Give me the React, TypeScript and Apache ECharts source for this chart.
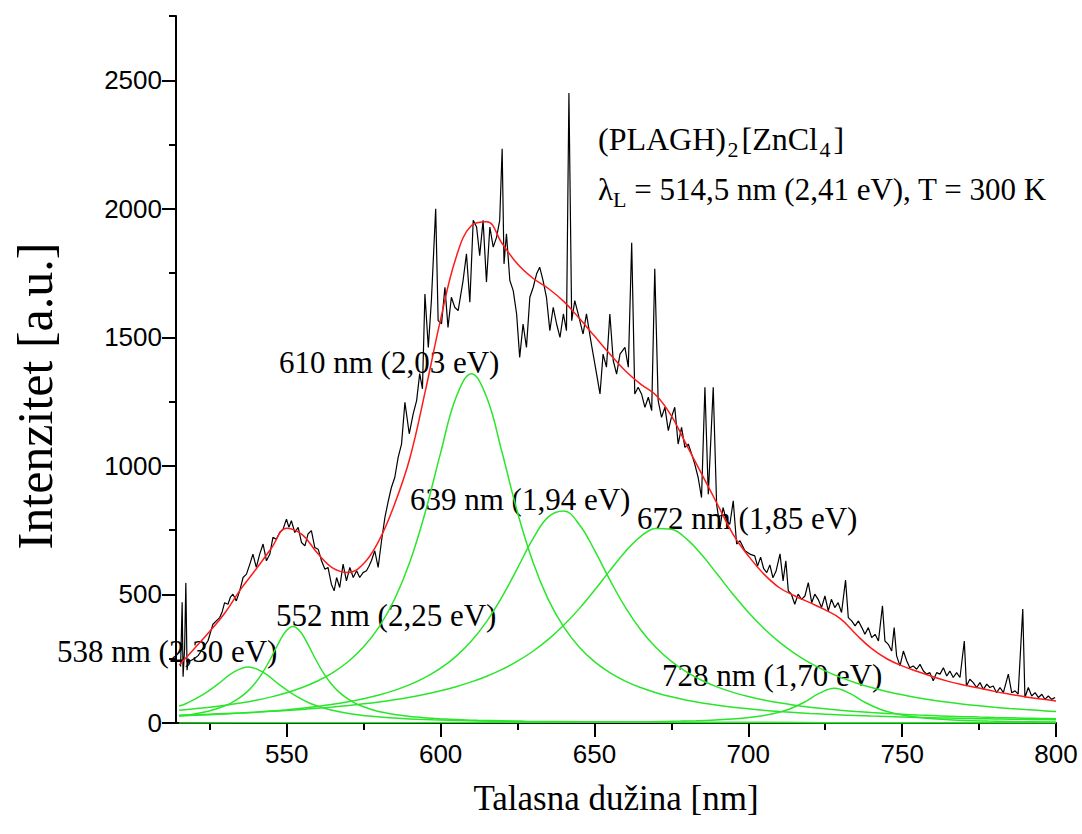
import React, { useEffect, useRef } from "react";
import * as echarts from "echarts";

// Axis extents and tick positions
const xMin = 514;
const xMax = 800;
const yMin = 0;
const yMax = 2750;
const xMajorTicks = [550, 600, 650, 700, 750, 800];
const xMinorTicks = [525, 575, 625, 675, 725, 775];
const yMajorTicks = [0, 500, 1000, 1500, 2000, 2500];
const yMinorTicks = [250, 750, 1250, 1750, 2250, 2750];

// Measured photoluminescence spectrum [nm, a.u.]
const spectrum: [number, number][] = [
  [515.5, 220], [516.0, 470], [516.3, 180], [516.8, 290], [517.2, 545], [517.6, 205], [518.0, 250], [518.5, 241],
  [519.3, 246], [520.1, 252], [521.2, 262], [522.3, 282], [523.3, 300], [524.4, 320], [525.2, 352], [526, 384],
  [527.1, 397], [528.2, 410], [529, 432], [529.8, 468], [530.9, 462], [531.7, 490], [532.5, 501], [533.6, 475],
  [534.7, 514], [535.8, 566], [536.9, 579], [538, 618], [539, 657], [540.1, 605], [541.2, 657], [542.3, 696],
  [543.4, 631], [544.5, 657], [545.5, 722], [546.6, 715], [547.7, 741], [548.8, 754], [549.9, 793], [550.7, 761],
  [551.5, 787], [552.6, 741], [553.7, 761], [554.8, 702], [555.9, 689], [556.9, 735], [558, 748], [559.1, 683],
  [560.2, 676], [561.3, 631], [562.4, 598], [563.4, 605], [564.5, 540], [565.4, 514], [566.2, 566], [567.2, 527],
  [568.3, 618], [569.4, 553], [570.5, 605], [571.6, 566], [572.7, 592], [573.7, 566], [574.8, 585], [575.9, 592],
  [576.7, 610], [577.5, 631], [578.6, 670], [579.7, 605], [580.8, 709], [581.9, 800], [583, 864], [584, 916],
  [585.1, 955], [586.2, 1033], [587.3, 1085], [588.4, 1247], [589.8, 1125], [591.1, 1203], [592.2, 1254], [593.2, 1359],
  [594.1, 1300], [594.9, 1669], [596, 1461], [597, 1643], [598.4, 2000], [599.2, 1565], [600.3, 1553], [601.4, 1695],
  [602.4, 1539], [603.5, 1656], [604.6, 1617], [605.7, 1604], [607.3, 1721], [608.4, 1825], [609.5, 1637], [610.6, 1955],
  [611.7, 1929], [612.7, 1818], [613.8, 1955], [614.9, 1715], [616, 1929], [617.1, 1851], [618.2, 1890], [619.2, 1955],
  [620, 2234], [620.6, 1786], [621.4, 1903], [622.5, 1721], [623.6, 1682], [624.7, 1591], [625.7, 1422], [626.8, 1552],
  [627.9, 1461], [629, 1656], [630.1, 1695], [631.2, 1747], [632.2, 1773], [633.3, 1721], [634.4, 1656], [635.5, 1526],
  [636.6, 1617], [637.7, 1552], [638.8, 1500], [639.9, 1591], [640.9, 1526], [641.7, 2450], [642.6, 1565], [643.6, 1643],
  [644.7, 1591], [646.3, 1513], [647.4, 1591], [649, 1474], [650.7, 1357], [651.8, 1280], [652.8, 1435], [653.9, 1384],
  [655, 1591], [656.1, 1410], [657.2, 1357], [658.3, 1435], [659.9, 1461], [661, 1384], [662.1, 1868], [663.1, 1280],
  [664.2, 1306], [665.3, 1280], [666.4, 1228], [667.5, 1267], [668.6, 1215], [669.6, 1767], [670.7, 1254], [671.8, 1189],
  [672.9, 1228], [674, 1137], [675, 1189], [676.1, 1228], [677.2, 1085], [678.3, 1150], [679.4, 1072], [680.5, 1085],
  [681.6, 1046], [682.6, 1007], [683.7, 955], [684.8, 877], [685.9, 1306], [687, 890], [688.6, 1306], [689.7, 851],
  [690.8, 760], [691.8, 838], [692.9, 787], [694, 773], [695.1, 864], [696.2, 696], [697.3, 709], [698.9, 670],
  [700.5, 657], [702.1, 650], [703, 610], [704, 645], [705, 600], [706, 585], [707, 615], [708, 565],
  [709, 590], [710.3, 658], [711.3, 553], [712.2, 631], [713, 514], [714, 501], [715.1, 462], [716.2, 501],
  [717.3, 481], [718.4, 494], [719.5, 546], [720.6, 468], [721.6, 501], [722.7, 481], [723.8, 449], [724.9, 494],
  [726, 436], [727, 481], [728.1, 449], [729.2, 468], [730.3, 430], [731.6, 556], [732.5, 410], [733.6, 397],
  [734.7, 378], [735.8, 397], [736.9, 371], [737.9, 345], [739, 371], [740.1, 332], [741.2, 345], [742.3, 319],
  [743.6, 456], [744.4, 319], [745.5, 306], [746.6, 280], [747.4, 371], [748.2, 261], [749.3, 222], [750.4, 280],
  [751.5, 241], [752.5, 215], [753.6, 222], [754.7, 209], [755.8, 228], [756.9, 202], [758, 190], [759, 196],
  [760.1, 164], [761.2, 196], [762.3, 190], [763.4, 215], [764.5, 183], [765.5, 202], [766.6, 177], [767.7, 196],
  [768.8, 177], [770.2, 319], [770.9, 144], [772, 170], [773.1, 157], [774.2, 138], [775.3, 157], [776.4, 131],
  [777.5, 151], [778.5, 138], [779.6, 144], [780.7, 118], [781.8, 138], [782.9, 118], [784.5, 190], [785.6, 118],
  [786.7, 125], [787.7, 112], [789.2, 443], [789.9, 99], [791, 138], [792.1, 105], [793.2, 118], [794.3, 99],
  [795.4, 112], [796.4, 92], [797.5, 105], [798.6, 92], [799.7, 99],
];

// Common 5 nm wavelength grid for the fit and the broad components
const gridNm = [
  515, 520, 525, 530, 535, 540, 545, 550, 555, 560, 565, 570, 575, 580, 585, 590, 595, 600, 605, 610,
  615, 620, 625, 630, 635, 640, 645, 650, 655, 660, 665, 670, 675, 680, 685, 690, 695, 700, 705, 710,
  715, 720, 725, 730, 735, 740, 745, 750, 755, 760, 765, 770, 775, 780, 785, 790, 795, 800,
];

// Cumulative fit
const fitInt = [
  225, 290, 357, 430, 520, 598, 680, 758, 733, 660, 602, 585, 620, 710, 850, 1030, 1290, 1570, 1810, 1935,
  1950, 1865, 1785, 1730, 1690, 1640, 1575, 1505, 1435, 1370, 1318, 1275, 1195, 1080, 965, 850, 735, 650, 580, 527,
  495, 468, 440, 405, 345, 290, 250, 222, 200, 180, 162, 148, 136, 123, 112, 102, 93, 86,
];

// Fitted components
const peak610Int = [
  49.6, 55.0, 61.4, 68.9, 77.8, 88.6, 101.7, 117.8, 137.9, 163.4, 196.2, 239.2, 296.4, 373.9, 480.3, 625.9, 819.1, 1050.8, 1266, 1358,
  1266, 1051, 819, 626, 480, 374, 296, 239, 196, 163, 138, 118, 102, 88.6, 77.8, 68.9, 61.4, 55.0, 49.6, 44.9,
  40.9, 37.3, 34.2, 31.5, 29.1, 26.9, 25.0, 23.3, 21.7, 20.3, 19.1, 17.9, 16.8, 15.9, 15.0, 14.2, 13.4, 12.7,
];
const peak639Int = [
  27.5, 29.7, 32.3, 35.2, 38.5, 42.3, 46.7, 51.7, 57.6, 64.5, 72.8, 82.6, 94.5, 109, 126.8, 149.1, 177.3, 213.2, 259.3, 318.9,
  395.4, 491.1, 602.7, 716.4, 801.8, 824.4, 773.4, 672.2, 556.6, 450.5, 362.6, 293.3, 239.4, 197.7, 165.2, 139.6, 119.2, 102.8, 89.5, 78.4,
  69.3, 61.6, 55.1, 49.6, 44.8, 40.7, 37.1, 34.0, 31.2, 28.8, 26.6, 24.7, 23.0, 21.4, 20.0, 18.7, 17.6, 16.5,
];
const peak672Int = [
  30.3, 32.3, 34.4, 36.7, 39.3, 42.2, 45.4, 48.9, 52.9, 57.4, 62.4, 68.1, 74.6, 82.0, 90.6, 100.4, 111.9, 125.4, 141.2, 159.9,
  182.1, 208.7, 240.7, 279.1, 325.2, 380, 443.9, 516.1, 592.7, 666.3, 725.3, 757, 753.4, 715.3, 652.4, 577.3, 501.1, 430.4, 368.3, 315.3,
  270.9, 233.8, 203.0, 177.4, 155.9, 137.8, 122.5, 109.5, 98.4, 88.8, 80.5, 73.2, 66.9, 61.3, 56.4, 52.1, 48.2, 44.7,
];

const peak538Nm = [515, 517.5, 522.5, 527.5, 532.5, 537.5, 542.5, 547.5, 552.5, 557.5, 562.5, 567.5, 572.5, 577.5, 582.5, 587.5, 592.5, 597.5, 607.5, 617.5, 627.5, 647.5, 667.5, 687.5, 712.5, 737.5, 762.5, 800];
const peak538Int = [66, 77, 108, 150, 196, 218, 196, 150, 108, 77, 56.6, 42.7, 33.1, 26.2, 21.3, 17.6, 14.7, 12.5, 9.3, 7.2, 5.7, 3.9, 2.8, 2.1, 1.55, 1.19, 0.94, 0.63];

const peak552Nm = [515, 517, 519.5, 522, 524.5, 527, 529.5, 532, 534.5, 537, 539.5, 542, 544.5, 547, 549.5, 552, 554.5, 557, 559.5, 562, 564.5, 567, 569.5, 572, 574.5, 577, 579.5, 582, 584.5, 587, 589.5, 592, 594.5, 597, 602, 612, 627, 647, 672, 702, 752, 800];
const peak552Int = [27, 29.9, 34.2, 39.5, 46.1, 54.3, 64.9, 78.6, 96.4, 120, 151.6, 193, 245, 303, 354, 375, 354, 303, 245, 193, 151.6, 120, 96.4, 78.6, 64.9, 54.3, 46.1, 39.5, 34.2, 29.9, 26.3, 23.3, 20.8, 18.7, 15.3, 10.7, 6.9, 4.4, 2.7, 1.76, 0.99, 0.65];

const peak728Nm = [515, 565, 615, 648, 668, 678, 683, 688, 693, 698, 703, 708, 713, 718, 723, 728, 733, 738, 743, 748, 753, 758, 763, 768, 773, 778, 788, 800];
const peak728Int = [0.43, 0.73, 1.5, 2.97, 5.2, 7.35, 8.96, 11.1, 14.2, 18.6, 25.3, 35.7, 52.7, 79.7, 115, 135, 115, 79.7, 52.7, 35.7, 25.3, 18.6, 14.2, 11.1, 8.96, 7.35, 5.2, 3.6];

// Peak annotations
const peakLabels = [
  "538 nm (2,30 eV)",
  "552 nm (2,25 eV)",
  "610 nm (2,03 eV)",
  "639 nm (1,94 eV)",
  "672 nm (1,85 eV)",
  "728 nm (1,70 eV)",
];

const SERIF = '"Liberation Serif", "Times New Roman", serif';
const SANS = '"Liberation Sans", Arial, sans-serif';
const GREEN = "#2ae62a";

const zip = (xs: number[], ys: number[]) => xs.map((x, i) => [x, ys[i]]);

function textWidth(text: string, size: number) {
  const ctx = document.createElement("canvas").getContext("2d");
  if (!ctx) return text.length * size * 0.5;
  ctx.font = `${size}px ${SERIF}`;
  return ctx.measureText(text).width;
}

type Part = { t: string; sub?: boolean };

// A line of serif text with optional subscripts, placed by its baseline
function formulaLine(parts: Part[], x: number, baseline: number, size: number, subGap: number) {
  const subSize = Math.round(size * 0.7);
  const children: any[] = [];
  let cx = x;
  for (const p of parts) {
    const fs = p.sub ? subSize : size;
    const base = p.sub ? baseline + size * 0.22 : baseline;
    if (p.sub) cx += subGap * 0.5;
    children.push({
      type: "text",
      x: cx,
      y: base - fs * 0.34,
      silent: true,
      style: {
        text: p.t,
        fontSize: fs,
        fontFamily: SERIF,
        fill: "#000",
        textAlign: "left",
        textVerticalAlign: "middle",
      },
    });
    cx += textWidth(p.t, fs);
    if (p.sub) cx += subGap;
  }
  return { type: "group", children };
}

function serifLabel(text: string, x: number, y: number, size: number) {
  return {
    type: "text",
    x,
    y,
    silent: true,
    style: {
      text,
      fontSize: size,
      fontFamily: SERIF,
      fill: "#000",
      textAlign: "left",
      textVerticalAlign: "middle",
    },
  };
}

function componentSeries(name: string, xs: number[], ys: number[]) {
  return {
    name,
    type: "line",
    data: zip(xs, ys),
    showSymbol: false,
    smooth: 0.4,
    silent: true,
    z: 2,
    lineStyle: { color: GREEN, width: 1.5 },
  };
}

export default function App() {
  const ref = useRef<HTMLDivElement>(null);

  useEffect(() => {
    if (!ref.current) return;
    const chart = echarts.init(ref.current, undefined, { renderer: "svg" });

    const labelPos: [number, number][] = [
      [57, 651],
      [276, 615],
      [279, 362],
      [410, 499],
      [637, 518],
      [662, 675],
    ];

    const axisLine = { lineStyle: { color: "#000", width: 2 } };
    const tickStyle = { color: "#000", width: 2 };
    const plain = (v: number) => String(v);

    const option: any = {
      animation: false,
      backgroundColor: "#fff",
      grid: { left: 176, right: 26, top: 16, bottom: 111, containLabel: false, outerBoundsMode: "none" },
      xAxis: [
        {
          type: "value",
          min: xMin,
          max: xMax,
          position: "bottom",
          axisLine,
          axisTick: { customValues: xMajorTicks, length: 14, lineStyle: tickStyle },
          axisLabel: { customValues: xMajorTicks, formatter: plain, margin: 18, fontSize: 26, fontFamily: SANS, color: "#000" },
          splitLine: { show: false },
          name: "Talasna dužina [nm]",
          nameLocation: "middle",
          nameGap: 58,
          nameTextStyle: { fontSize: 35, fontFamily: SERIF, color: "#000" },
        },
        {
          type: "value",
          min: xMin,
          max: xMax,
          position: "bottom",
          axisLine: { show: false },
          axisTick: { customValues: xMinorTicks, length: 7, lineStyle: tickStyle },
          axisLabel: { show: false },
          splitLine: { show: false },
        },
      ],
      yAxis: [
        {
          type: "value",
          min: yMin,
          max: yMax,
          position: "left",
          axisLine: { show: true, ...axisLine },
          axisTick: { show: true, customValues: yMajorTicks, length: 14, lineStyle: tickStyle },
          axisLabel: { customValues: yMajorTicks, formatter: plain, margin: 14, fontSize: 26, fontFamily: SANS, color: "#000" },
          splitLine: { show: false },
        },
        {
          type: "value",
          min: yMin,
          max: yMax,
          position: "left",
          axisLine: { show: false },
          axisTick: { show: true, customValues: yMinorTicks, length: 7, lineStyle: tickStyle },
          axisLabel: { show: false },
          splitLine: { show: false },
        },
      ],
      series: [
        componentSeries("538 nm", peak538Nm, peak538Int),
        componentSeries("552 nm", peak552Nm, peak552Int),
        componentSeries("610 nm", gridNm, peak610Int),
        componentSeries("639 nm", gridNm, peak639Int),
        componentSeries("672 nm", gridNm, peak672Int),
        componentSeries("728 nm", peak728Nm, peak728Int),
        {
          name: "spectrum",
          type: "line",
          data: spectrum,
          showSymbol: false,
          silent: true,
          z: 3,
          lineStyle: { color: "#000", width: 1.2 },
        },
        {
          name: "fit",
          type: "line",
          data: zip(gridNm, fitInt),
          showSymbol: false,
          smooth: 0.4,
          silent: true,
          z: 4,
          lineStyle: { color: "#ff1a1a", width: 1.5 },
        },
      ],
      graphic: [
        formulaLine(
          [{ t: "(PLAGH)" }, { t: "2", sub: true }, { t: "[ZnCl" }, { t: "4", sub: true }, { t: "]" }],
          598,
          150,
          32,
          3
        ),
        formulaLine([{ t: "λ" }, { t: "L", sub: true }, { t: " = 514,5 nm (2,41 eV), T = 300 K" }], 598, 200, 31, 0),
        ...peakLabels.map((t, i) => serifLabel(t, labelPos[i][0], labelPos[i][1], 31)),
        {
          type: "text",
          x: 35,
          y: 396,
          rotation: Math.PI / 2,
          silent: true,
          style: {
            text: "Intenzitet [a.u.]",
            fontSize: 50,
            fontFamily: SERIF,
            fill: "#000",
            textAlign: "center",
            textVerticalAlign: "middle",
          },
        },
      ],
    };

    chart.setOption(option);
    return () => chart.dispose();
  }, []);

  return (
    <div
      ref={ref}
      style={{ position: "absolute", left: 0, top: 0, width: 1082, height: 834, background: "#fff" }}
    />
  );
}
